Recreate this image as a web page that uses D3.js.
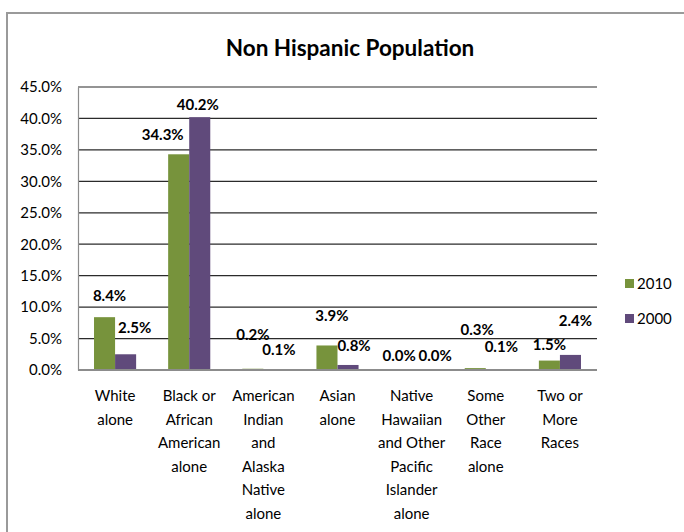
<!DOCTYPE html>
<html>
<head>
<meta charset="utf-8">
<script src="https://cdn.jsdelivr.net/npm/d3@7"></script>
<style>
  body { margin: 0; background: #fff; }
  svg { font-family: Lato, "Liberation Sans", sans-serif; }
</style>
</head>
<body>
<div id="chart"></div>
<script>
// chart data
const categories = [
    ["White", "alone"],
    ["Black or", "African", "American", "alone"],
    ["American", "Indian", "and", "Alaska", "Native", "alone"],
    ["Asian", "alone"],
    ["Native", "Hawaiian", "and Other", "Pacific", "Islander", "alone"],
    ["Some", "Other", "Race", "alone"],
    ["Two or", "More", "Races"]
];
const seriesNames = ["2010", "2000"];
const values2010 = [8.4, 34.3, 0.2, 3.9, 0.0, 0.3, 1.5];
const values2000 = [2.5, 40.2, 0.1, 0.8, 0.0, 0.1, 2.4];
const yTicks = [0, 5, 10, 15, 20, 25, 30, 35, 40, 45];

// label nudges (Excel moved some labels to avoid overlaps) [dx, dy] from bar top
const nudge2010 = [[5, -21], [-16, -19], [0, -34], [5, -29], [-2, -14], [2, -38], [0, -16]];
const nudge2000 = [[9, -26], [-2, -12], [5, -19], [6, -19], [13, -14], [5, -22], [5, -34]];

const colors = { "2010": "#77933C", "2000": "#604A7B" };

const W = 684, H = 532;
const margin = { top: 87, right: 87, bottom: 162, left: 78 };
const width = W - margin.left - margin.right;
const height = H - margin.top - margin.bottom;

const svg = d3.select("#chart").append("svg")
    .attr("width", W)
    .attr("height", H);

// outer chart border (runs past the crop at right and bottom)
svg.append("rect")
    .attr("x", 7).attr("y", 13)
    .attr("width", 720).attr("height", 600)
    .attr("fill", "none")
    .attr("stroke", "#9a9a9a")
    .attr("stroke-width", 2);

svg.append("text")
    .attr("x", 350).attr("y", 56)
    .attr("text-anchor", "middle")
    .attr("font-size", 22.5)
    .attr("font-weight", "bold")
    .text("Non Hispanic Population");

const g = svg.append("g")
    .attr("transform", `translate(${margin.left},${margin.top})`);

const x0 = d3.scaleBand()
    .domain(d3.range(categories.length))
    .range([0, width]);

const x1 = d3.scaleBand()
    .domain(seriesNames)
    .range([x0.bandwidth() * 0.216, x0.bandwidth() * 0.784]);

const y = d3.scaleLinear()
    .domain([0, 45])
    .range([height, 0]);

// gridlines
g.append("g")
    .selectAll("line")
    .data(yTicks.filter(d => d > 0))
    .join("line")
        .attr("x1", 0).attr("x2", width)
        .attr("y1", d => y(d)).attr("y2", d => y(d))
        .attr("stroke", "#2b2b2b")
        .attr("stroke-width", 1.2);

// y axis
const yAxis = g.append("g")
    .call(d3.axisLeft(y).tickValues(yTicks).tickSize(0).tickPadding(16)
        .tickFormat(d => d.toFixed(1) + "%"));
yAxis.select(".domain").attr("stroke", "#8c8c8c").attr("stroke-width", 1.2);
yAxis.selectAll("text")
    .attr("font-family", "Lato, sans-serif")
    .attr("font-size", 15)
    .attr("fill", "#000");

const series = [
    { name: "2010", values: values2010, nudge: nudge2010 },
    { name: "2000", values: values2000, nudge: nudge2000 }
];

// bars
series.forEach(s => {
    g.append("g")
        .selectAll("rect")
        .data(s.values)
        .join("rect")
            .attr("x", (d, i) => x0(i) + x1(s.name))
            .attr("y", d => y(d))
            .attr("width", x1.bandwidth())
            .attr("height", d => y(0) - y(d))
            .attr("fill", colors[s.name]);
});

// x axis line
g.append("line")
    .attr("x1", 0).attr("x2", width)
    .attr("y1", y(0)).attr("y2", y(0))
    .attr("stroke", "#8c8c8c")
    .attr("stroke-width", 2);

// data labels
series.forEach(s => {
    g.append("g")
        .selectAll("text")
        .data(s.values)
        .join("text")
            .attr("x", (d, i) => x0(i) + x1(s.name) + x1.bandwidth() / 2 + s.nudge[i][0])
            .attr("y", (d, i) => y(d) + s.nudge[i][1] + 5)
            .attr("text-anchor", "middle")
            .attr("font-size", 15)
            .attr("font-weight", "bold")
            .text(d => d.toFixed(1) + "%");
});

// category labels
g.append("g")
    .selectAll("text")
    .data(categories)
    .join("text")
        .attr("x", (d, i) => x0(i) + x0.bandwidth() / 2)
        .attr("y", height + 31)
        .attr("text-anchor", "middle")
        .attr("font-size", 15)
        .each(function(lines) {
            d3.select(this).selectAll("tspan")
                .data(lines)
                .join("tspan")
                    .attr("x", d3.select(this).attr("x"))
                    .attr("dy", (d, j) => j === 0 ? 0 : 23.5)
                    .text(d => d);
        });

// legend
const legend = svg.append("g")
    .selectAll("g")
    .data(seriesNames)
    .join("g")
        .attr("transform", (d, i) => `translate(625,${279 + i * 35})`);

legend.append("rect")
    .attr("width", 9).attr("height", 9)
    .attr("fill", d => colors[d]);

legend.append("text")
    .attr("x", 12).attr("y", 10)
    .attr("font-size", 15)
    .text(d => d);
</script>
</body>
</html>
